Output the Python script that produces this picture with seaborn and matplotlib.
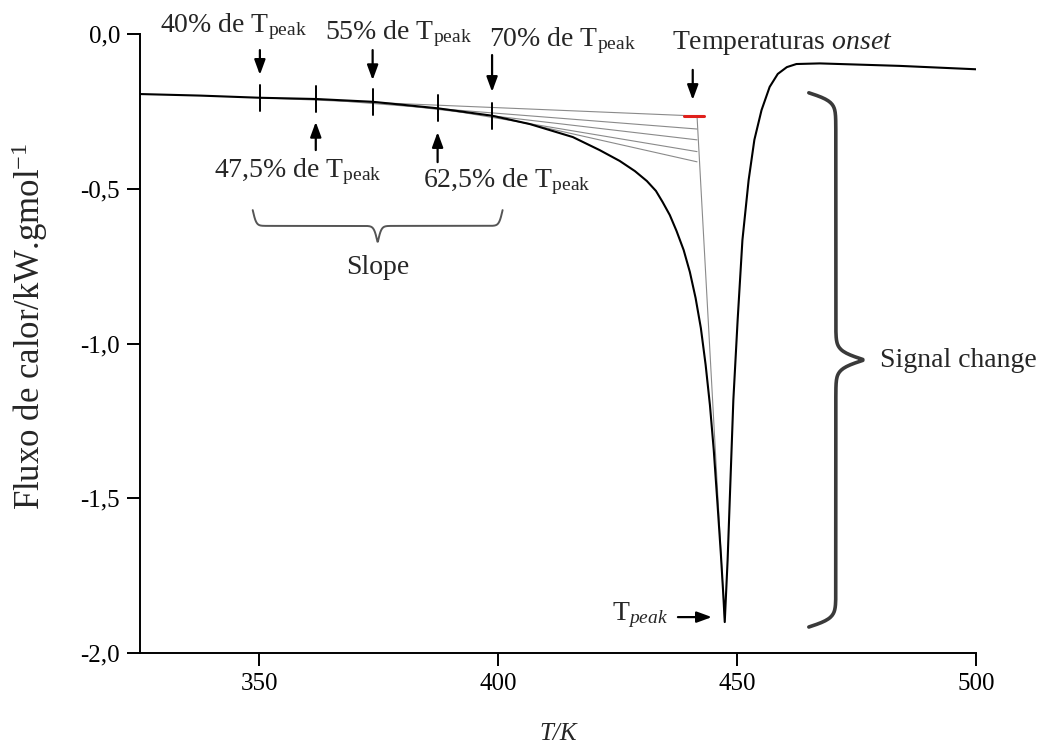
import numpy as np
import pandas as pd
import matplotlib
matplotlib.use("Agg")
import matplotlib.pyplot as plt
import seaborn as sns
from matplotlib.ticker import FixedLocator, FuncFormatter

# ---------------- data ----------------
temp_K = [325.0, 337.6, 350.1, 361.8, 373.7, 387.3, 398.7, 406.6, 415.6, 421.2,
          425.4, 428.6, 431.1, 433.0, 434.4, 435.9, 437.3, 438.8, 440.1, 441.3,
          442.4, 443.4, 444.3, 445.1, 445.9, 446.6, 447.1,
          447.4, 448.0, 448.6, 449.2, 450.1, 451.1, 452.4, 453.6, 455.1, 456.8,
          458.5, 460.4, 462.4, 467.3, 484.0, 500.0]
heat_flow = [-0.194, -0.199, -0.206, -0.210, -0.219, -0.240, -0.264, -0.291, -0.333, -0.375,
             -0.410, -0.443, -0.475, -0.507, -0.543, -0.585, -0.636, -0.698, -0.769, -0.853,
             -0.950, -1.069, -1.199, -1.344, -1.522, -1.683, -1.812,
             -1.900, -1.700, -1.441, -1.183, -0.924, -0.666, -0.472, -0.342, -0.246, -0.171,
             -0.129, -0.107, -0.097, -0.095, -0.103, -0.114]

# slope markers (40%, 47.5%, 55%, 62.5%, 70% of Tpeak)
marker_labels = ["40%", "47,5%", "55%", "62,5%", "70%"]
marker_T = [350.1, 361.8, 373.7, 387.3, 398.7]
marker_flow = [-0.206, -0.210, -0.219, -0.240, -0.264]
# tangent lines end near the onset temperatures
tangent_end_T = 441.6
tangent_end_flow = [-0.265, -0.307, -0.342, -0.380, -0.413]
onset_T = [438.8, 443.0]
onset_flow = -0.265
peak_T = 447.4
peak_flow = -1.90

x_ticks = [350, 400, 450, 500]
y_ticks = [0.0, -0.5, -1.0, -1.5, -2.0]

df = pd.DataFrame({"T": temp_K, "flow": heat_flow})

# ---------------- style ----------------
sns.set_style("ticks")
plt.rcParams["font.family"] = ["Liberation Serif", "DejaVu Serif"]
plt.rcParams["mathtext.fontset"] = "custom"
plt.rcParams["mathtext.rm"] = "Liberation Serif"
plt.rcParams["mathtext.it"] = "Liberation Serif:italic"
plt.rcParams["axes.unicode_minus"] = False

fig = plt.figure(figsize=(10.43, 7.44), dpi=100)
ax = fig.add_axes([0.1342, 0.1223, 0.8016, 0.832])

# main DSC curve
sns.lineplot(data=df, x="T", y="flow", ax=ax, color="black", lw=1.5,
             sort=False, estimator=None, legend=False)

# tangent (slope) lines
for t0, f0, f1 in zip(marker_T, marker_flow, tangent_end_flow):
    ax.plot([t0, tangent_end_T], [f0, f1], color="#8a8a8a", lw=0.8, zorder=1)
# line from onset down to the peak
ax.plot([tangent_end_T, peak_T], [onset_flow, peak_flow], color="#8a8a8a", lw=0.8, zorder=1)
# onset marker (red)
ax.plot(onset_T, [onset_flow, onset_flow], color="#e0201b", lw=2.2, zorder=3)

# small vertical ticks on curve at the markers
for t0, f0 in zip(marker_T, marker_flow):
    ax.plot([t0, t0], [f0 - 0.042, f0 + 0.042], color="black", lw=1.4, zorder=3)

arrow_kw = dict(arrowstyle="-|>,head_length=0.9,head_width=0.33", color="black", lw=1.6,
                shrinkA=0, shrinkB=0)
txt_kw = dict(fontsize=20, ha="center", va="center")

# down arrows + labels above (40%, 55%, 70%)
down = {0: (-0.052, -0.132, 344.5, 0.025),
        2: (-0.052, -0.149, 379.0, 0.002),
        4: (-0.068, -0.187, 413.5, -0.022)}
for i, (ya, yb, tx, ty) in down.items():
    ax.annotate("", xy=(marker_T[i], yb), xytext=(marker_T[i], ya),
                arrowprops=arrow_kw, annotation_clip=False)
    ax.text(tx, ty, marker_labels[i] + r" de T$_{\mathrm{peak}}$", **txt_kw)

# up arrows + labels below (47.5%, 62.5%)
up = {1: (-0.375, -0.284, 358.0, -0.446),
      3: (-0.414, -0.317, 401.8, -0.478)}
for i, (ya, yb, tx, ty) in up.items():
    ax.annotate("", xy=(marker_T[i], yb), xytext=(marker_T[i], ya),
                arrowprops=arrow_kw, annotation_clip=False)
    ax.text(tx, ty, marker_labels[i] + r" de T$_{\mathrm{peak}}$", **txt_kw)

# onset label
ax.annotate("", xy=(440.7, -0.213), xytext=(440.7, -0.116), arrowprops=arrow_kw,
            annotation_clip=False)
ax.text(459.5, -0.030, r"Temperaturas $\mathit{onset}$", **txt_kw)

# Tpeak label
ax.annotate("", xy=(444.7, -1.884), xytext=(437.6, -1.884), arrowprops=arrow_kw,
            annotation_clip=False)
ax.text(429.6, -1.878, r"T$_{\mathit{peak}}$", **txt_kw)


def brace_curve(p0, p1, q_end, q_tip, beta=90, n=600):
    u = np.linspace(0, 0.5, n // 2)
    s = 1 / (1 + np.exp(-beta * u)) + 1 / (1 + np.exp(-beta * (u - 0.5))) - 0.5
    s = np.concatenate([s, s[::-1]])
    p = np.linspace(p0, p1, len(s))
    q = q_end + (q_tip - q_end) * s
    return p, q


# Slope brace (horizontal)
bp, bq = brace_curve(348.6, 400.9, -0.569, -0.671, beta=140)
ax.plot(bp, bq, color="#555555", lw=1.4, clip_on=False)
ax.text(374.8, -0.753, "Slope", **txt_kw)

# Signal change brace (vertical)
bp, bq = brace_curve(-0.19, -1.916, 465.0, 476.3, beta=120)
ax.plot(bq, bp, color="#3a3a3a", lw=2.6, clip_on=False, solid_capstyle="round")
ax.text(479.8, -1.055, "Signal change", fontsize=20, ha="left", va="center")

# axes
ax.set_xlim(325, 500)
ax.set_ylim(-2.0, 0.0)
ax.xaxis.set_major_locator(FixedLocator(x_ticks))
ax.yaxis.set_major_locator(FixedLocator(y_ticks))
ax.yaxis.set_major_formatter(FuncFormatter(lambda v, _: f"{v:.1f}".replace(".", ",")))
ax.tick_params(axis="both", direction="out", length=9.4, width=1.4, labelsize=18,
               colors="black", pad=5)
for s in ["top", "right"]:
    ax.spines[s].set_visible(False)
for s in ["left", "bottom"]:
    ax.spines[s].set_linewidth(1.4)
    ax.spines[s].set_color("black")

ax.set_xlabel("T/K", fontsize=18, style="italic")
ax.xaxis.set_label_coords(0.5, -0.113)
ax.set_ylabel(r"Fluxo de calor/kW.gmol$^{\mathrm{-1}}$", fontsize=25)
ax.yaxis.set_label_coords(-0.108, 0.527)

fig.savefig("out.png", dpi=100)
